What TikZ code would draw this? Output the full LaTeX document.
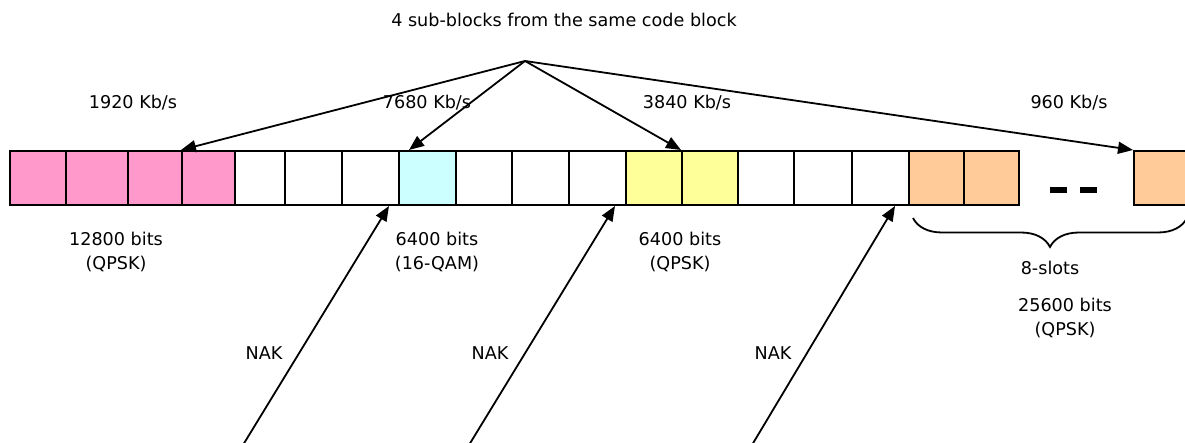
\documentclass[tikz,border=0pt]{standalone}
\usepackage{fontspec}
\setmainfont{DejaVu Sans}
\usepackage{tikz}
\usetikzlibrary{arrows.meta,decorations.pathreplacing}
\definecolor{slotpink}{HTML}{FF99CC}
\definecolor{slotcyan}{HTML}{CCFFFF}
\definecolor{slotyellow}{HTML}{FFFF99}
\definecolor{slotorange}{HTML}{FFCC99}

\begin{document}
\begin{tikzpicture}[x=0.5pt,y=-0.5pt,
    slot/.style={draw,line width=1pt,minimum height=27pt,inner sep=0pt},
    lbl/.style={font=\fontsize{8.8}{12}\selectfont,align=center,inner sep=0pt},
    tip/.style={-{Triangle[length=7.5pt,width=6pt]},line width=0.9pt}]
    \clip (0,0) rectangle (1185,443);
    % Draw slots
    \foreach \i/\l/\r/\c in {1/10/66/slotpink, 2/66/128/slotpink, 3/128/182/slotpink,
        4/182/235/slotpink, 5/235/285/white, 6/285/342/white, 7/342/399/white,
        8/399/456/slotcyan, 9/456/512/white, 10/512/569/white, 11/569/626/white,
        12/626/682/slotyellow, 13/682/738/slotyellow, 14/738/794/white,
        15/794/852/white, 16/852/909/white, 17/909/964/slotorange,
        18/964/1019/slotorange, 19/1134/1190/slotorange}
        \node[slot,fill=\c,minimum width={(\r-\l)*0.5}] (s\i) at ({(\l+\r)/2},178) {};
    \draw[line width=3pt,dash pattern=on 8.5pt off 6.5pt] (1050,190) -- (1097,190); % more slots

    % Sub-blocks
    \node[lbl] (title) at (564,20) {4 sub-blocks from the same code block};
    \coordinate (src) at (525,61);
    \draw[tip] (src) -- (s4.north west);
    \draw[tip] (src) -- ([xshift=5.5pt]s8.north west);
    \draw[tip] (src) -- (s13.north west);
    \draw[tip] (src) -- (s19.north west);

    % Label rates
    \node[lbl] (r1) at (133,103) {1920 Kb/s};
    \node[lbl] (r2) at (427,103) {7680 Kb/s};
    \node[lbl] (r3) at (687,103) {3840 Kb/s};
    \node[lbl] (r4) at (1069,103) {960 Kb/s};

    % Label sizes
    \node[lbl] (b1) at (116,252) {12800 bits\\(QPSK)};
    \node[lbl] (b2) at (437,252) {6400 bits\\(16-QAM)};
    \node[lbl] (b3) at (680,252) {6400 bits\\(QPSK)};

    % Brace over 8 slots
    \coordinate (brl) at (913,218);
    \coordinate (brr) at (1187,218);
    \draw[line width=0.9pt,decorate,decoration={brace,mirror,amplitude=14.5pt}] (brl) -- (brr);
    \node[lbl] (nslots) at (1050,268) {8-slots};
    \node[lbl] (b4) at (1065,318) {25600 bits\\(QPSK)};

    % NAK arrows
    \coordinate (n1) at (243,445);
    \coordinate (n2) at (469,445);
    \coordinate (n3) at (752,445);
    \draw[tip] (n1) -- ([xshift=-5.5pt]s7.south east);
    \draw[tip] (n2) -- ([xshift=-6pt]s11.south east);
    \draw[tip] (n3) -- ([xshift=-7.5pt]s16.south east);
    \node[lbl] (k1) at (264,353) {NAK};
    \node[lbl] (k2) at (490,353) {NAK};
    \node[lbl] (k3) at (773,353) {NAK};
\end{tikzpicture}
\end{document}
